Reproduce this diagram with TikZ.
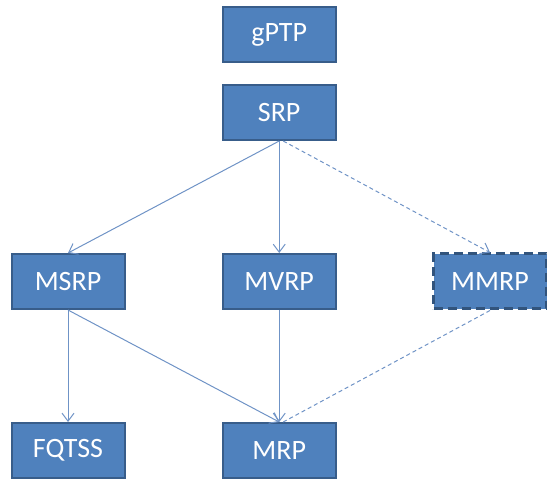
\documentclass[tikz,border=0pt]{standalone}
\usepackage{fontspec}
\setmainfont{Carlito}
\usetikzlibrary{arrows.meta}
\definecolor{boxfill}{HTML}{4F81BD}
\definecolor{boxline}{HTML}{385D8A}
\definecolor{conn}{HTML}{6F93C6}
\begin{document}
\begin{tikzpicture}[x=1pt,y=1pt,
  blk/.style={draw=boxline, line width=2pt, fill=boxfill, minimum width=113pt, minimum height=55pt,
    inner sep=0pt, text=white, font=\fontsize{28}{30}\selectfont},
  dblk/.style={blk, line width=3pt, dash pattern=on 9pt off 5pt, draw=boxline!90!black},
  conarrow/.style={draw=conn, line width=1pt, -{Straight Barb[length=8pt,width=12pt]}},
  conline/.style={draw=conn, line width=1pt, dash pattern=on 4pt off 3pt}
]
\useasboundingbox (0,0) rectangle (547,-481);
\node[blk] (gptp) at (279.2,-34.5) {gPTP};
\node[blk] (srp) at (279.2,-112.5) {SRP};
\node[blk] (msrp) at (68,-281.5) {MSRP};
\node[blk] (mvrp) at (279.2,-281.5) {MVRP};
\node[dblk] (mmrp) at (490,-281.5) {MMRP};
\node[blk] (fqtss) at (68,-450.5) {FQTSS};
\node[blk] (mrp) at (279.2,-450.5) {MRP};
\draw[conarrow] (srp.south) -- (msrp.north);
\draw[conarrow] (srp.south) -- (mvrp.north);
\draw[conline, -{Straight Barb[length=8pt,width=12pt]}] ([xshift=4pt]srp.south) -- (mmrp.north);
\draw[conarrow] (msrp.south) -- (fqtss.north);
\draw[conarrow] (msrp.south) -- (mrp.north);
\draw[conarrow] (mvrp.south) -- (mrp.north);
\draw[conline] (mmrp.south) -- ([xshift=4pt]mrp.north);
\end{tikzpicture}
\end{document}
